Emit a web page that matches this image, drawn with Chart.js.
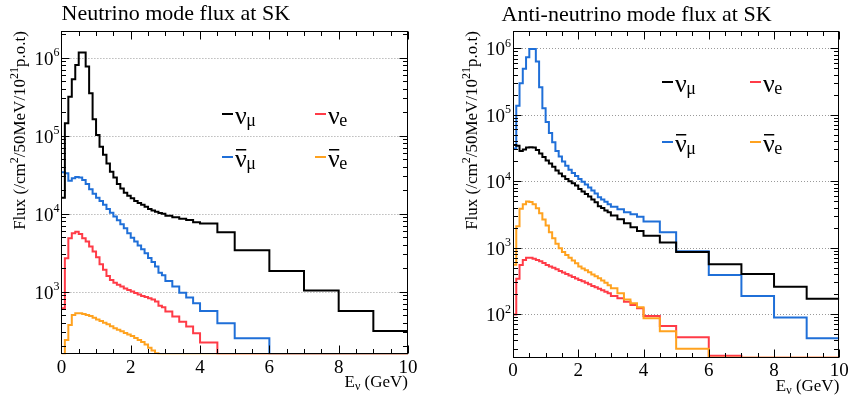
<!DOCTYPE html>
<html>
<head>
<meta charset="utf-8">
<script src="https://cdn.jsdelivr.net/npm/chart.js@4.4.1/dist/chart.umd.min.js"></script>
<style>
  html, body { margin: 0; padding: 0; background: #fff; }
  #wrap { position: relative; width: 849px; height: 398px; }
  .panel { position: absolute; top: 0; width: 424px; height: 398px; }
</style>
</head>
<body>
<div id="wrap">
  <div class="panel" style="left:0"><canvas id="nuMode" width="424" height="398"></canvas></div>
  <div class="panel" style="left:425px"><canvas id="antiMode" width="424" height="398"></canvas></div>
</div>
<script>
const FONT = '"Liberation Serif", "Times New Roman", serif';

// energy bin edges (GeV)
const binEdges = [0, 0.1, 0.2, 0.3, 0.4, 0.5, 0.6, 0.7, 0.8, 0.9,
  1.0, 1.1, 1.2, 1.3, 1.4, 1.5, 1.6, 1.7, 1.8, 1.9,
  2.0, 2.1, 2.2, 2.3, 2.4, 2.5, 2.6, 2.7, 2.8, 2.9,
  3.0, 3.2, 3.4, 3.6, 3.8, 4.0, 4.5, 5, 6, 7, 8, 9, 10];

// neutrino mode, flux per 50 MeV per 1e21 POT
const fhcNumu = [16000, 144000, 316000, 530000, 805000, 1170000, 1170000, 770000, 350000, 162000,
  102000, 72000, 57000, 44000, 34500, 29000, 24000, 21000, 18500, 17000,
  15700, 14500, 13700, 13000, 12300, 11500, 11000, 10600, 10200, 10000,
  9400, 8970, 8600, 8300, 7760, 7500, 5770, 3400, 1840, 1030, 566, 313];
const fhcNumubar = [34000, 33000, 26500, 28500, 29500, 29000, 27000, 24000, 20500, 18000,
  16000, 14500, 13000, 11500, 10300, 9200, 8200, 7300, 6500, 5600,
  4900, 4400, 3900, 3500, 3100, 2700, 2400, 2100, 1750, 1620,
  1370, 1160, 970, 840, 710, 566, 394, 253, 0, 0, 0, 0];
const fhcNue = [610, 2680, 4830, 5600, 5870, 5490, 4830, 4380, 3780, 3260,
  2760, 2250, 1900, 1590, 1410, 1300, 1220, 1160, 1100, 1050,
  1000, 960, 920, 880, 850, 822, 790, 745, 660, 630,
  554, 479, 412, 356, 293, 222, 0, 0, 0, 0, 0, 0];
const fhcNuebar = [0, 240, 374, 500, 527, 527, 517, 500, 485, 462,
  440, 420, 400, 380, 360, 340, 325, 310, 295, 282,
  270, 255, 240, 225, 210, 190, 176, 162, 0, 0,
  0, 0, 0, 0, 0, 0, 0, 0, 0, 0, 0, 0];

// anti-neutrino mode
const rhcNumu = [35000, 34000, 28500, 30000, 32000, 32500, 32000, 29500, 26000, 23000,
  20500, 18500, 16500, 14500, 13000, 11800, 10800, 10000, 9300, 8600,
  7600, 7000, 6400, 5850, 5300, 4800, 4200, 3950, 3600, 3400,
  3030, 2670, 2320, 2020, 1780, 1510, 1190, 860, 560, 400, 258, 170];
const rhcNumubar = [31000, 137000, 298000, 490000, 730000, 975000, 975000, 630000, 258000, 125000,
  78000, 53000, 38500, 28500, 23500, 19800, 17000, 14800, 13300, 12000,
  10800, 9800, 8900, 8000, 7200, 6500, 5700, 5300, 4900, 4500,
  4130, 3770, 3400, 3170, 2920, 2460, 1700, 880, 386, 187, 89, 43];
const rhcNue = [98, 340, 547, 650, 705, 705, 680, 650, 620, 585,
  547, 520, 495, 470, 445, 420, 400, 380, 360, 342,
  325, 310, 295, 280, 265, 252, 240, 228, 216, 205,
  187, 172, 153, 137, 122, 93, 66, 44.6, 23.5, 0, 0, 0];
const rhcNuebar = [550, 2100, 3850, 4500, 4920, 4850, 4500, 3900, 3280, 2650,
  2150, 1700, 1380, 1140, 980, 860, 770, 700, 640, 580,
  520, 485, 455, 425, 395, 370, 345, 320, 295, 270,
  245, 205, 166, 145, 126, 86, 55, 30, 0, 0, 0, 0];

const fhcDecades = [1e3, 1e4, 1e5, 1e6];
const rhcDecades = [1e2, 1e3, 1e4, 1e5, 1e6];

const COLORS = { numu: '#000000', numubar: '#1f6fd8', nue: '#ff3b47', nuebar: '#ffa21f' };

// per-canvas decoration (titles, legend placement)
const panelStyle = {
  nuMode: {
    title: 'Neutrino mode flux at SK', titleX: 61.5, titleY: 20,
    yTitleX: 25,
    legendCols: [222, 315], legendRows: [123.5, 166.5]
  },
  antiMode: {
    title: 'Anti-neutrino mode flux at SK', titleX: 76.5, titleY: 20.5,
    yTitleX: 51.5,
    legendCols: [237, 325], legendRows: [91.5, 151.5]
  }
};

const legendEntries = [
  { sub: 'μ', bar: false, color: COLORS.numu, col: 0, row: 0 },
  { sub: 'e', bar: false, color: COLORS.nue, col: 1, row: 0 },
  { sub: 'μ', bar: true, color: COLORS.numubar, col: 0, row: 1 },
  { sub: 'e', bar: true, color: COLORS.nuebar, col: 1, row: 1 }
];

// draw a run of text pieces with their own size and vertical shift
function drawRich(ctx, parts, x, y, align) {
  let total = 0;
  parts.forEach(p => { ctx.font = p.size + 'px ' + FONT; p.w = ctx.measureText(p.t).width; total += p.w + (p.gap || 0); });
  let cx = align === 'right' ? x - total : x;
  ctx.textAlign = 'left';
  parts.forEach(p => {
    ctx.font = p.size + 'px ' + FONT;
    ctx.fillText(p.t, cx, y + (p.dy || 0));
    cx += p.w + (p.gap || 0);
  });
}

const rootStyle = {
  id: 'rootStyle',
  beforeDatasetsDraw(chart) {
    const { ctx, chartArea: a, scales: { y } } = chart;
    ctx.save();
    ctx.strokeStyle = '#9a9a9a';
    ctx.lineWidth = 1;
    ctx.setLineDash([1, 2]);
    y.ticks.forEach(t => {
      const py = Math.round(y.getPixelForValue(t.value)) + 0.5;
      ctx.beginPath();
      ctx.moveTo(a.left, py);
      ctx.lineTo(a.right, py);
      ctx.stroke();
    });
    ctx.restore();
  },
  afterDatasetsDraw(chart) {
    const st = panelStyle[chart.canvas.id];
    const { ctx, chartArea: a, scales: { x, y } } = chart;
    ctx.save();
    ctx.strokeStyle = '#000';
    ctx.lineWidth = 1;

    // frame
    const L = Math.round(a.left) + 0.5, R = Math.round(a.right) - 0.5;
    const T = Math.round(a.top) + 0.5, B = Math.round(a.bottom) - 0.5;
    ctx.strokeRect(L, T, R - L, B - T);

    // x tick marks, bottom and top
    ctx.beginPath();
    for (let i = 0; i <= 20; i++) {
      const px = Math.round(x.getPixelForValue(i / 2)) + 0.5;
      const len = i % 4 === 0 ? 8 : 4.5;
      ctx.moveTo(px, B); ctx.lineTo(px, B - len);
      ctx.moveTo(px, T); ctx.lineTo(px, T + len);
    }
    // y tick marks, left and right
    const d0 = Math.floor(Math.log10(y.min)), d1 = Math.ceil(Math.log10(y.max));
    for (let d = d0; d <= d1; d++) {
      for (let m = 1; m <= 9; m++) {
        const v = m * Math.pow(10, d);
        if (v < y.min || v > y.max) continue;
        const py = Math.round(y.getPixelForValue(v)) + 0.5;
        const len = m === 1 ? 8 : 4.5;
        ctx.moveTo(L, py); ctx.lineTo(L + len, py);
        ctx.moveTo(R, py); ctx.lineTo(R - len, py);
      }
    }
    ctx.stroke();

    ctx.fillStyle = '#000';
    ctx.textBaseline = 'alphabetic';

    // y tick labels 10^n
    y.ticks.forEach(t => {
      const py = y.getPixelForValue(t.value);
      const exp = String(Math.round(Math.log10(t.value)));
      ctx.font = '19px ' + FONT;
      const w10 = ctx.measureText('10').width;
      ctx.font = '12px ' + FONT;
      const wExp = ctx.measureText(exp).width;
      const x0 = a.left - 2 - wExp - w10;
      ctx.font = '19px ' + FONT;
      ctx.textAlign = 'left';
      ctx.fillText('10', x0, py + 7);
      ctx.font = '12px ' + FONT;
      ctx.fillText(exp, x0 + w10, py - 1.5);
    });

    // panel title
    ctx.font = '22px ' + FONT;
    ctx.textAlign = 'left';
    ctx.fillText(st.title, st.titleX, st.titleY);

    // x axis title
    drawRich(ctx, [
      { t: 'E', size: 17 },
      { t: 'ν', size: 12, dy: 3 },
      { t: ' (GeV)', size: 17 }
    ], a.right, a.bottom + 33, 'right');

    // y axis title
    ctx.save();
    ctx.translate(st.yTitleX, a.top);
    ctx.rotate(-Math.PI / 2);
    drawRich(ctx, [
      { t: 'Flux (/cm', size: 17 },
      { t: '2', size: 12, dy: -7 },
      { t: '/50MeV/10', size: 17 },
      { t: '21', size: 12, dy: -7 },
      { t: 'p.o.t)', size: 17 }
    ], 0, 0, 'right');
    ctx.restore();

    // legend
    legendEntries.forEach(e => {
      const lx = st.legendCols[e.col];
      const base = st.legendRows[e.row];
      ctx.strokeStyle = e.color;
      ctx.lineWidth = 2;
      ctx.beginPath();
      ctx.moveTo(lx, base - 9.5);
      ctx.lineTo(lx + 11, base - 9.5);
      ctx.stroke();
      const tx = lx + 13;
      ctx.font = '26px ' + FONT;
      ctx.fillStyle = '#000';
      ctx.textAlign = 'left';
      ctx.fillText('ν', tx, base);
      const wNu = ctx.measureText('ν').width;
      if (e.bar) ctx.fillRect(tx + 1, base - 17.5, wNu - 1.5, 1.5);
      ctx.font = '18px ' + FONT;
      ctx.fillText(e.sub, tx + wNu - 0.5, base + 2);
    });
    ctx.restore();
  }
};

function toPoints(values, floor) {
  const pts = values.map((v, i) => ({ x: binEdges[i], y: v > 0 ? v : floor }));
  const last = values[values.length - 1];
  pts.push({ x: binEdges[binEdges.length - 1], y: last > 0 ? last : floor });
  return pts;
}

function buildPanel(id, p) {
  const base = {
    stepped: 'before', borderWidth: 2, pointRadius: 0, pointHitRadius: 0,
    fill: false, tension: 0, borderJoinStyle: 'miter', borderCapStyle: 'butt'
  };
  const datasets = [
    { label: 'numubar', data: toPoints(p.numubar, p.yMin), borderColor: COLORS.numubar, order: 3 },
    { label: 'numu', data: toPoints(p.numu, p.yMin), borderColor: COLORS.numu, order: 2 },
    { label: 'nue', data: toPoints(p.nue, p.yMin), borderColor: COLORS.nue, order: 1 },
    { label: 'nuebar', data: toPoints(p.nuebar, p.yMin), borderColor: COLORS.nuebar, order: 0 }
  ].map(d => Object.assign({}, base, d));

  return new Chart(document.getElementById(id), {
    type: 'line',
    data: { datasets },
    options: {
      responsive: false,
      animation: false,
      devicePixelRatio: 1,
      events: [],
      layout: { autoPadding: false, padding: { top: 31, right: p.padRight, bottom: 0, left: 0 } },
      scales: {
        x: {
          type: 'linear', min: 0, max: 10,
          grid: { display: false }, border: { display: false },
          ticks: { stepSize: 2, autoSkip: false, maxRotation: 0, padding: -6, color: '#000',
                   font: { family: FONT, size: 19 } },
          afterFit: s => { s.height = p.xAxisHeight; }
        },
        y: {
          type: 'logarithmic', min: p.yMin, max: p.yMax,
          grid: { display: false }, border: { display: false },
          ticks: { display: false },
          afterBuildTicks: s => { s.ticks = p.decades.map(v => ({ value: v })); },
          afterFit: s => { s.width = p.yAxisWidth; }
        }
      },
      plugins: { legend: { display: false }, tooltip: { enabled: false } }
    },
    plugins: [rootStyle]
  });
}

buildPanel('nuMode', {
  numu: fhcNumu, numubar: fhcNumubar, nue: fhcNue, nuebar: fhcNuebar,
  yMin: 157, yMax: 2.2e6, decades: fhcDecades,
  yAxisWidth: 61.4, xAxisHeight: 43.7, padRight: 16
});
buildPanel('antiMode', {
  numu: rhcNumu, numubar: rhcNumubar, nue: rhcNue, nuebar: rhcNuebar,
  yMin: 22, yMax: 1.82e6, decades: rhcDecades,
  yAxisWidth: 88, xAxisHeight: 40.3, padRight: 9.7
});
</script>
</body>
</html>
